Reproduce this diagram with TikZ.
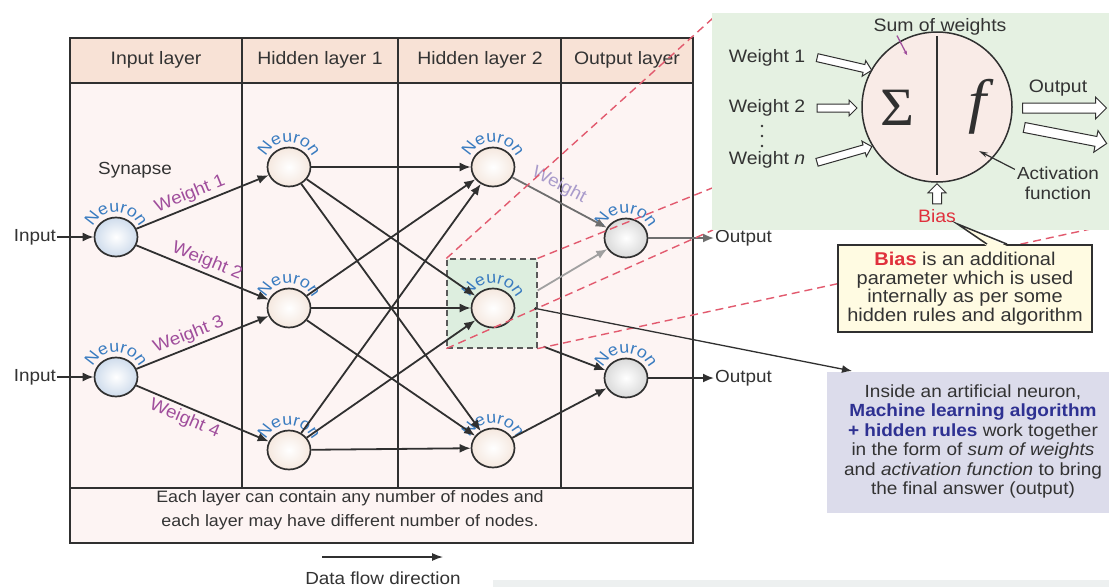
\documentclass[tikz,border=0pt]{standalone}
\usepackage{fontspec}
\setmainfont{Liberation Sans}[FakeStretch=1.08]
\newfontfamily\greekserif{Liberation Serif}[FakeStretch=1.08]
\usetikzlibrary{arrows.meta,shapes.geometric,shapes.arrows,decorations.text,calc}

\definecolor{ink}{HTML}{303030}
\definecolor{textgray}{HTML}{333333}
\definecolor{headfill}{HTML}{F8E2D6}
\definecolor{bodyfill}{HTML}{FDF4F3}
\definecolor{neuronblue}{HTML}{3A7CC0}
\definecolor{weightpurple}{HTML}{A04E9C}
\definecolor{fadedpurple}{HTML}{A99BCB}
\definecolor{zoomred}{HTML}{E25A6E}
\definecolor{insetfill}{HTML}{E5F1E2}
\definecolor{cellfill}{HTML}{F9EBE7}
\definecolor{biasred}{HTML}{E0303C}
\definecolor{notefill}{HTML}{FFFBE2}
\definecolor{infofill}{HTML}{DCDCEB}
\definecolor{infoblue}{HTML}{2E3192}
\definecolor{focusfill}{HTML}{DDEEDF}
\definecolor{inshade}{HTML}{CFDCEC}
\definecolor{hidshade}{HTML}{F5E8DF}
\definecolor{outshade}{HTML}{DADADA}
\definecolor{faintgray}{HTML}{A0A0A0}
\definecolor{midgray}{HTML}{6E6E6E}
\definecolor{stripfill}{HTML}{EDF0F0}

\newcommand{\txtsize}[2]{\fontsize{#1}{#2}\selectfont}
\newcommand{\neuronfont}{\color{neuronblue}\fontsize{16.5}{17}\selectfont}
% curved "Neuron" caption over a neuron node
\newcommand{\neuronarc}[1]{%
  \path[decorate, decoration={text along path, text align=center,
    text={|\neuronfont|Neuron}}]
    ($(#1)+(172:25)$) arc[start angle=172, end angle=8, radius=25];}

\tikzset{
  neuron/.style={ellipse, draw=ink, line width=1.7pt, minimum width=43pt,
    minimum height=39pt, inner sep=0pt},
  inneuron/.style={neuron, inner color=white, outer color=inshade},
  hidneuron/.style={neuron, inner color=white, outer color=hidshade},
  outneuron/.style={neuron, inner color=white, outer color=outshade},
  link/.style={draw=ink, line width=1.8pt, -{Latex[length=11pt,width=9pt]}},
  greylink/.style={link, draw=midgray},
  faintlink/.style={link, draw=faintgray},
  wlabel/.style={text=weightpurple, font=\txtsize{17.5}{18}, sloped, inner sep=3pt},
  plain/.style={text=textgray, font=\txtsize{17.5}{20}, inner sep=1pt},
  headtext/.style={plain, font=\txtsize{18}{20}},
  zoomline/.style={draw=zoomred, line width=1.4pt, dash pattern=on 8pt off 5pt},
  hollow/.style={single arrow, draw=ink, fill=white, line width=1pt, inner sep=3.5pt,
    single arrow head extend=4pt, single arrow tip angle=90, minimum height=#1,
    anchor=center},
  widehollow/.style={hollow=#1, inner sep=4.5pt, single arrow head extend=6pt},
}

\begin{document}
\begin{tikzpicture}[x=1pt,y=1pt]
\useasboundingbox (0,0) rectangle (1109,-587);
\clip (0,0) rectangle (1109,-587);
\fill[white] (0,0) rectangle (1109,-587);

% ---------- layer table ----------
\fill[bodyfill] (70,-83) rectangle (693,-543);
\fill[headfill] (70,-38) rectangle (693,-83);
\draw[ink, line width=1.6pt] (70,-83) -- (693,-83) (70,-488) -- (693,-488);
\foreach \x in {242,398,561} \draw[ink, line width=1.6pt] (\x,-38) -- (\x,-488);
\draw[ink, line width=2.2pt] (70,-38) rectangle (693,-543);

\node[headtext] (hIn)  at (156,-60) {Input layer};
\node[headtext] (hH1)  at (320,-60) {Hidden layer 1};
\node[headtext] (hH2)  at (480,-60) {Hidden layer 2};
\node[headtext] (hOut) at (627,-60) {Output layer};

% highlighted neuron
\node[draw=ink!80, line width=1.2pt, dash pattern=on 6pt off 4pt, fill=focusfill,
  minimum width=90pt, minimum height=89pt, inner sep=0pt] (focus) at (492,-303.5) {};

% ---------- neurons ----------
\node[inneuron]  (In1) at (116,-237) {};
\node[inneuron]  (In2) at (116,-377) {};
\node[hidneuron] (H1a) at (289,-167) {};
\node[hidneuron] (H1b) at (289,-308) {};
\node[hidneuron] (H1c) at (289,-450) {};
\node[hidneuron] (H2a) at (493,-167) {};
\node[hidneuron] (H2b) at (493,-308) {};
\node[hidneuron] (H2c) at (493,-448) {};
\node[outneuron] (O1)  at (626,-238) {};
\node[outneuron] (O2)  at (626,-378) {};

\foreach \n in {In1,In2,H1a,H1b,H1c,H2a,H2b,H2c,O1,O2} {\neuronarc{\n}}

\node[plain] (syn) at (135,-170) {Synapse};

% inputs and outputs
\node[plain, anchor=east] (inA) at (57,-237) {Input};
\node[plain, anchor=east] (inB) at (57,-377) {Input};
\node[plain, anchor=west] (outA) at (714,-238) {Output};
\node[plain, anchor=west] (outB) at (714,-378) {Output};
\draw[link] (inA) -- (In1);
\draw[link] (inB) -- (In2);
\draw[greylink] (O1) -- (outA);
\draw[link] (O2) -- (outB);

% synapses
\draw[link] (In1) -- node[wlabel, above, pos=.44] {Weight 1} (H1a);
\draw[link] (In1) -- node[wlabel, above, pos=.50] {Weight 2} (H1b);
\draw[link] (In2) -- node[wlabel, above, pos=.43] {Weight 3} (H1b);
\draw[link] (In2) -- node[wlabel, below, pos=.40] {Weight 4} (H1c);
\foreach \a in {H1a,H1b,H1c} \foreach \b in {H2a,H2b,H2c} \draw[link] (\a) -- (\b);
\draw[greylink] (H2a) -- node[wlabel, text=fadedpurple, above=3pt, pos=.42] {Weight} (O1);
\draw[faintlink] ($(focus.east)+(0,13)$) -- (O1);
\draw[link] ($(focus.south east)+(6,2)$) -- (O2);
\draw[link] (H2c) -- (O2);

% ---------- zoom guides ----------
\coordinate (zA) at (713,-18);
\coordinate (zB) at (1109,-28);
\coordinate (zC) at (713,-230);
\coordinate (zD) at (1109,-225);
\draw[zoomline] (focus.north west) -- (zA);
\draw[zoomline] (focus.north east) -- (zB);
\draw[zoomline] (focus.south west) -- (zC);
\draw[zoomline] (focus.south east) -- (zD);

% ---------- inside a neuron ----------
\node[fill=insetfill, minimum width=397pt, minimum height=217pt, inner sep=0pt,
  anchor=north west] (inset) at (712,-13) {};
\node[circle, draw=ink, line width=1.5pt, fill=cellfill, minimum size=150pt,
  inner sep=0pt] (cell) at (937,-107) {};
\draw[ink, line width=1.3pt] ($(cell.north)+(0,-5)$) -- ($(cell.south)+(0,8)$);
\node[text=ink, font=\greekserif\txtsize{54}{54}] (sig) at (897,-108) {Σ};
\node[text=ink, font=\greekserif\itshape\txtsize{60}{60}] (fn) at (977,-107) {f};

\node[plain, font=\txtsize{18}{20}] (sumlbl) at (940,-27) {Sum of weights};
\node[plain, font=\txtsize{18}{20}] (w1) at (767,-58) {Weight 1};
\node[plain, font=\txtsize{18}{20}] (w2) at (767,-108) {Weight 2};
\node[plain, font=\txtsize{18}{20}] (wn) at (767,-160) {Weight \textit{n}};
\foreach \y in {-126,-136,-146} \fill[textgray] (762,\y) circle (1.3pt);

\node[hollow=56, rotate=-13] (a1) at (842.5,-63.5) {};
\node[hollow=40] (a2) at (835,-108) {};
\node[hollow=57, rotate=16] (an) at (842.5,-155) {};
\node[widehollow=84] (ao1) at (1062,-108) {};
\node[widehollow=84, rotate=-11] (ao2) at (1063,-135) {};
\node[hollow=20, rotate=90, inner sep=4pt, single arrow head extend=4.5pt] (ab) at (937,-196) {};

\node[plain, font=\txtsize{18}{20}] (outlbl) at (1058,-88) {Output};
\node[plain, align=center, font=\txtsize{17.5}{20}] (actlbl) at (1058,-183) {Activation\\function};
\node[text=biasred, font=\txtsize{18}{20}, inner sep=1pt] (biaslbl) at (937,-216) {Bias};

\coordinate (sumtip) at (907,-55);
\draw[weightpurple, line width=1.3pt, -{Stealth[length=4pt,width=4pt]}]
  ($(sumlbl.south)+(-43,1)$) -- (sumtip);
\coordinate (acttip) at (979,-151);
\draw[ink, line width=1.2pt, -{Stealth[length=9pt,width=5pt]}]
  ($(actlbl.north west)+(-1,-4)$) -- (acttip);

% ---------- bias note ----------
\node[draw=ink, line width=1.8pt, fill=notefill, minimum width=254pt, minimum height=87pt,
  align=center, text=textgray, font=\txtsize{18.5}{18.5}, inner sep=2pt] (biasnote)
  at (965,-288.5)
  {\textcolor{biasred}{\textbf{Bias}} is an additional\\parameter which is used\\
   internally as per some\\hidden rules and algorithm};
\fill[notefill] ($(biasnote.north)+(22,-2)$) -- (biaslbl.south east)
  -- ($(biasnote.north)+(42,-2)$) -- cycle;
\draw[ink, line width=1.5pt] ($(biasnote.north)+(22,0)$) -- (biaslbl.south east)
  -- ($(biasnote.north)+(42,0)$);

% ---------- explanation ----------
\node[fill=infofill, minimum width=282pt, minimum height=141pt, inner sep=0pt,
  anchor=north west] (info) at (827,-372) {};
\node[align=center, text=textgray, font=\txtsize{17.6}{19.4}, inner sep=0pt]
  (infotext) at (973,-441.5)
  {Inside an artificial neuron,\\
   \textcolor{infoblue}{\textbf{Machine learning algorithm}}\\
   \textcolor{infoblue}{\textbf{+ hidden rules}} work together\\
   in the form of \textit{sum of weights}\\
   and \textit{activation function} to bring\\
   the final answer (output)};
\coordinate (infostart) at ($(focus.east)+(-2,-5)$);
\fill[ink] (infostart) circle (1.6pt);
\draw[ink, line width=1.3pt, -{Latex[length=10pt,width=8pt]}]
  (infostart) -- ($(info.north west)+(25,1)$);

\fill[stripfill] (493,-580) rectangle (1109,-587);

% ---------- captions ----------
\node[plain, align=center, font=\txtsize{16.5}{24}] (capt) at (350,-510)
  {Each layer can contain any number of nodes and\\each layer may have different number of nodes.};
\coordinate (dfA) at (322,-557);
\coordinate (dfB) at (443,-557);
\draw[ink, line width=1.3pt, -{Latex[length=11pt,width=8pt]}] (dfA) -- (dfB);
\node[plain] (dflbl) at (383,-578) {Data flow direction};
\end{tikzpicture}
\end{document}
